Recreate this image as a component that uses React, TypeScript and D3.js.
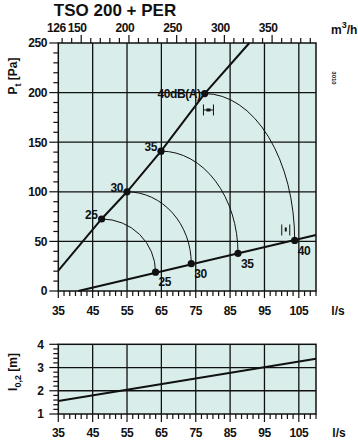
import React from "react";
import * as d3 from "d3";

// ---- data ----
const flowTicks = [35, 45, 55, 65, 75, 85, 95, 105];
const pressureTicks = [0, 50, 100, 150, 200, 250];
const m3hLabels = [150, 200, 250, 300, 350];
const m3hStart = 126;
const throwTicks = [1, 2, 3, 4];

const lineAq = [35, 47.6, 55, 64.9, 77.6, 90.6];
const lineAp = [20.5, 72.6, 100, 141, 199, 250];
const lineBq = [40.8, 110];
const lineBp = [0, 56.5];

const dbLabels = ["25", "30", "35", "40"];
const upperQ = [47.6, 55, 64.9, 77.6];
const upperP = [72.6, 100, 141, 199];
const lowerQ = [63.3, 73.7, 87.3, 103.8];
const lowerP = [19, 27.5, 38, 51];

const tolQ = [78.7, 101.2];
const tolP = [182.5, 61.5];

const throwQ = [35, 110];
const throwL = [1.56, 3.38];

const FONT = "'Liberation Sans', Arial, sans-serif";

export default function App() {
  const x = d3.scaleLinear().domain([35, 110]).range([58.3, 316]);
  const y = d3.scaleLinear().domain([0, 250]).range([291, 43]);
  const y2 = d3.scaleLinear().domain([1, 4]).range([414, 344.3]);
  const xm = (m: number) => x(m / 3.6);

  const line = d3.line<[number, number]>().x(d => x(d[0])).y(d => y(d[1]));
  const line2 = d3.line<[number, number]>().x(d => x(d[0])).y(d => y2(d[1]));

  const lineA = line(lineAq.map((q, i) => [q, lineAp[i]] as [number, number]))!;
  const lineB = line(lineBq.map((q, i) => [q, lineBp[i]] as [number, number]))!;
  const throwLine = line2(throwQ.map((q, i) => [q, throwL[i]] as [number, number]))!;

  const bottomMinor = d3.range(35, 110.01, 10 / 6);
  const leftMinor = d3.range(0, 250.01, 10);
  const topMinor = d3.range(130, 396, 10);
  const lowerLeftMinor = d3.range(1, 4.01, 0.2);

  const gridStroke = "#111";
  const bg = "#d9eeea";

  const [x0, x1] = x.range();
  const [yb, yt] = y.range();
  const [y2b, y2t] = y2.range();

  const txt = { fontFamily: FONT, fontWeight: 700, fill: "#111" } as const;

  return (
    <svg width={358} height={440} style={{ position: "absolute", left: 0, top: 0 }}>
      <rect width={358} height={440} fill="#fff" />
      {/* title */}
      <text x={115} y={16} textAnchor="middle" fontSize={17} {...txt}>TSO 200 + PER</text>

      {/* ===== main chart ===== */}
      <rect x={x0} y={yt} width={x1 - x0} height={yb - yt} fill={bg} />
      {flowTicks.slice(1).map(t => (
        <line key={"gv" + t} x1={x(t)} x2={x(t)} y1={yt} y2={yb} stroke={gridStroke} strokeWidth={1.3} />
      ))}
      {pressureTicks.slice(1, -1).map(t => (
        <line key={"gh" + t} x1={x0} x2={x1} y1={y(t)} y2={y(t)} stroke={gridStroke} strokeWidth={1.3} />
      ))}
      <rect x={x0} y={yt} width={x1 - x0} height={yb - yt} fill="none" stroke={gridStroke} strokeWidth={1.5} />

      {/* left ticks */}
      {leftMinor.map(t => (
        <line key={"lt" + t} x1={x0 - (t % 50 === 0 ? 9 : 5)} x2={x0} y1={y(t)} y2={y(t)} stroke={gridStroke} strokeWidth={1.2} />
      ))}
      {pressureTicks.map(t => (
        <text key={"ll" + t} x={47} y={y(t)} dy="0.36em" textAnchor="end" fontSize={12} letterSpacing={-0.4} {...txt}>{t}</text>
      ))}
      {/* bottom ticks */}
      {bottomMinor.map((t, i) => (
        <line key={"bt" + i} x1={x(t)} x2={x(t)} y1={yb} y2={yb + (i % 6 === 0 ? 7 : 5)} stroke={gridStroke} strokeWidth={1.2} />
      ))}
      {flowTicks.map(t => (
        <text key={"bl" + t} x={x(t)} y={311} dy="0.36em" textAnchor="middle" fontSize={12} letterSpacing={-0.4} {...txt}>{t}</text>
      ))}
      <text x={338} y={311} dy="0.36em" textAnchor="middle" fontSize={12} {...txt}>l/s</text>

      {/* top ticks */}
      {topMinor.map(t => (
        <line key={"tt" + t} x1={xm(t)} x2={xm(t)} y1={yt} y2={yt - (t % 50 === 0 ? 8 : 5)} stroke={gridStroke} strokeWidth={1.2} />
      ))}
      <text x={x(35) - 2} y={28} dy="0.36em" textAnchor="middle" fontSize={12} letterSpacing={-0.4} {...txt}>{m3hStart}</text>
      {m3hLabels.map(t => (
        <text key={"tl" + t} x={xm(t) - 4} y={28} dy="0.36em" textAnchor="middle" fontSize={12} letterSpacing={-0.4} {...txt}>{t}</text>
      ))}
      <text x={331} y={34} fontSize={12} {...txt}>
        m<tspan dy={-6} fontSize={9}>3</tspan><tspan dy={6}>/h</tspan>
      </text>
      <text transform="translate(332,78) rotate(90)" textAnchor="middle" fontSize={6} {...txt}>3010</text>

      {/* y label */}
      <text transform="translate(17,76) rotate(-90)" textAnchor="middle" fontSize={12} {...txt}>
        P<tspan dy={4} fontSize={9}>t</tspan><tspan dy={-4}> [Pa]</tspan>
      </text>

      {/* system lines */}
      <path d={lineA} fill="none" stroke="#111" strokeWidth={2} />
      <path d={lineB} fill="none" stroke="#111" strokeWidth={2} />

      {/* sound level arcs */}
      {dbLabels.map((_, i) => {
        const ax = x(upperQ[i]), ay = y(upperP[i]);
        const bx = x(lowerQ[i]), by = y(lowerP[i]);
        return (
          <path key={"arc" + i} d={`M${ax},${ay} A${bx - ax},${by - ay} 0 0 1 ${bx},${by}`} fill="none" stroke="#111" strokeWidth={1} />
        );
      })}
      {dbLabels.map((lab, i) => (
        <g key={"pt" + i}>
          <circle cx={x(upperQ[i])} cy={y(upperP[i])} r={3.6} fill="#111" />
          <circle cx={x(lowerQ[i])} cy={y(lowerP[i])} r={3.6} fill="#111" />
          <text x={x(upperQ[i]) - 4} y={y(upperP[i]) - (i === 3 ? 0 : 4)} dy="0.36em" textAnchor="end" fontSize={12} letterSpacing={-0.4} {...txt}>
            {i === 3 ? lab + "dB(A)" : lab}
          </text>
          <text x={x(lowerQ[i]) + 3} y={y(lowerP[i]) + 10} dy="0.36em" textAnchor="start" fontSize={12} letterSpacing={-0.4} {...txt}>{lab}</text>
        </g>
      ))}

      {/* tolerance markers */}
      {tolQ.map((q, i) => {
        const cx = x(q), cy = y(tolP[i]);
        const hw = i === 0 ? 5 : 4;
        return (
          <g key={"tol" + i} stroke="#111" strokeWidth={1}>
            <line x1={cx - hw} x2={cx - hw} y1={cy - 5.5} y2={cy + 5.5} />
            <line x1={cx + hw} x2={cx + hw} y1={cy - 5.5} y2={cy + 5.5} />
            {i === 0 ? (
              <>
                <line x1={cx - hw} x2={cx + hw} y1={cy} y2={cy} />
                <rect x={cx - 2} y={cy - 1.5} width={4} height={3} fill="#111" stroke="none" />
              </>
            ) : (
              <rect x={cx - 1} y={cy - 2.5} width={2} height={4} fill="#111" stroke="none" />
            )}
          </g>
        );
      })}

      {/* ===== lower chart ===== */}
      <rect x={x0} y={y2t} width={x1 - x0} height={y2b - y2t} fill={bg} />
      {flowTicks.slice(1).map(t => (
        <line key={"g2v" + t} x1={x(t)} x2={x(t)} y1={y2t} y2={y2b} stroke={gridStroke} strokeWidth={1.3} />
      ))}
      {throwTicks.slice(1, -1).map(t => (
        <line key={"g2h" + t} x1={x0} x2={x1} y1={y2(t)} y2={y2(t)} stroke={gridStroke} strokeWidth={1.3} />
      ))}
      <rect x={x0} y={y2t} width={x1 - x0} height={y2b - y2t} fill="none" stroke={gridStroke} strokeWidth={1.5} />
      {lowerLeftMinor.map((t, i) => (
        <line key={"l2t" + i} x1={x0 - (i % 5 === 0 ? 9 : 5)} x2={x0} y1={y2(t)} y2={y2(t)} stroke={gridStroke} strokeWidth={1.2} />
      ))}
      {throwTicks.map(t => (
        <text key={"l2l" + t} x={44} y={y2(t)} dy="0.36em" textAnchor="end" fontSize={12} {...txt}>{t}</text>
      ))}
      {bottomMinor.map((t, i) => (
        <line key={"b2t" + i} x1={x(t)} x2={x(t)} y1={y2b} y2={y2b + (i % 6 === 0 ? 8 : 5)} stroke={gridStroke} strokeWidth={1.2} />
      ))}
      {flowTicks.map(t => (
        <text key={"b2l" + t} x={x(t)} y={432.5} dy="0.36em" textAnchor="middle" fontSize={12} letterSpacing={-0.4} {...txt}>{t}</text>
      ))}
      <text x={339} y={432.5} dy="0.36em" textAnchor="middle" fontSize={12} {...txt}>l/s</text>
      <text transform="translate(17,372) rotate(-90)" textAnchor="middle" fontSize={12} {...txt}>
        l<tspan dy={4} fontSize={9}>0,2</tspan><tspan dy={-4}> [m]</tspan>
      </text>
      <path d={throwLine} fill="none" stroke="#111" strokeWidth={2} />
    </svg>
  );
}
